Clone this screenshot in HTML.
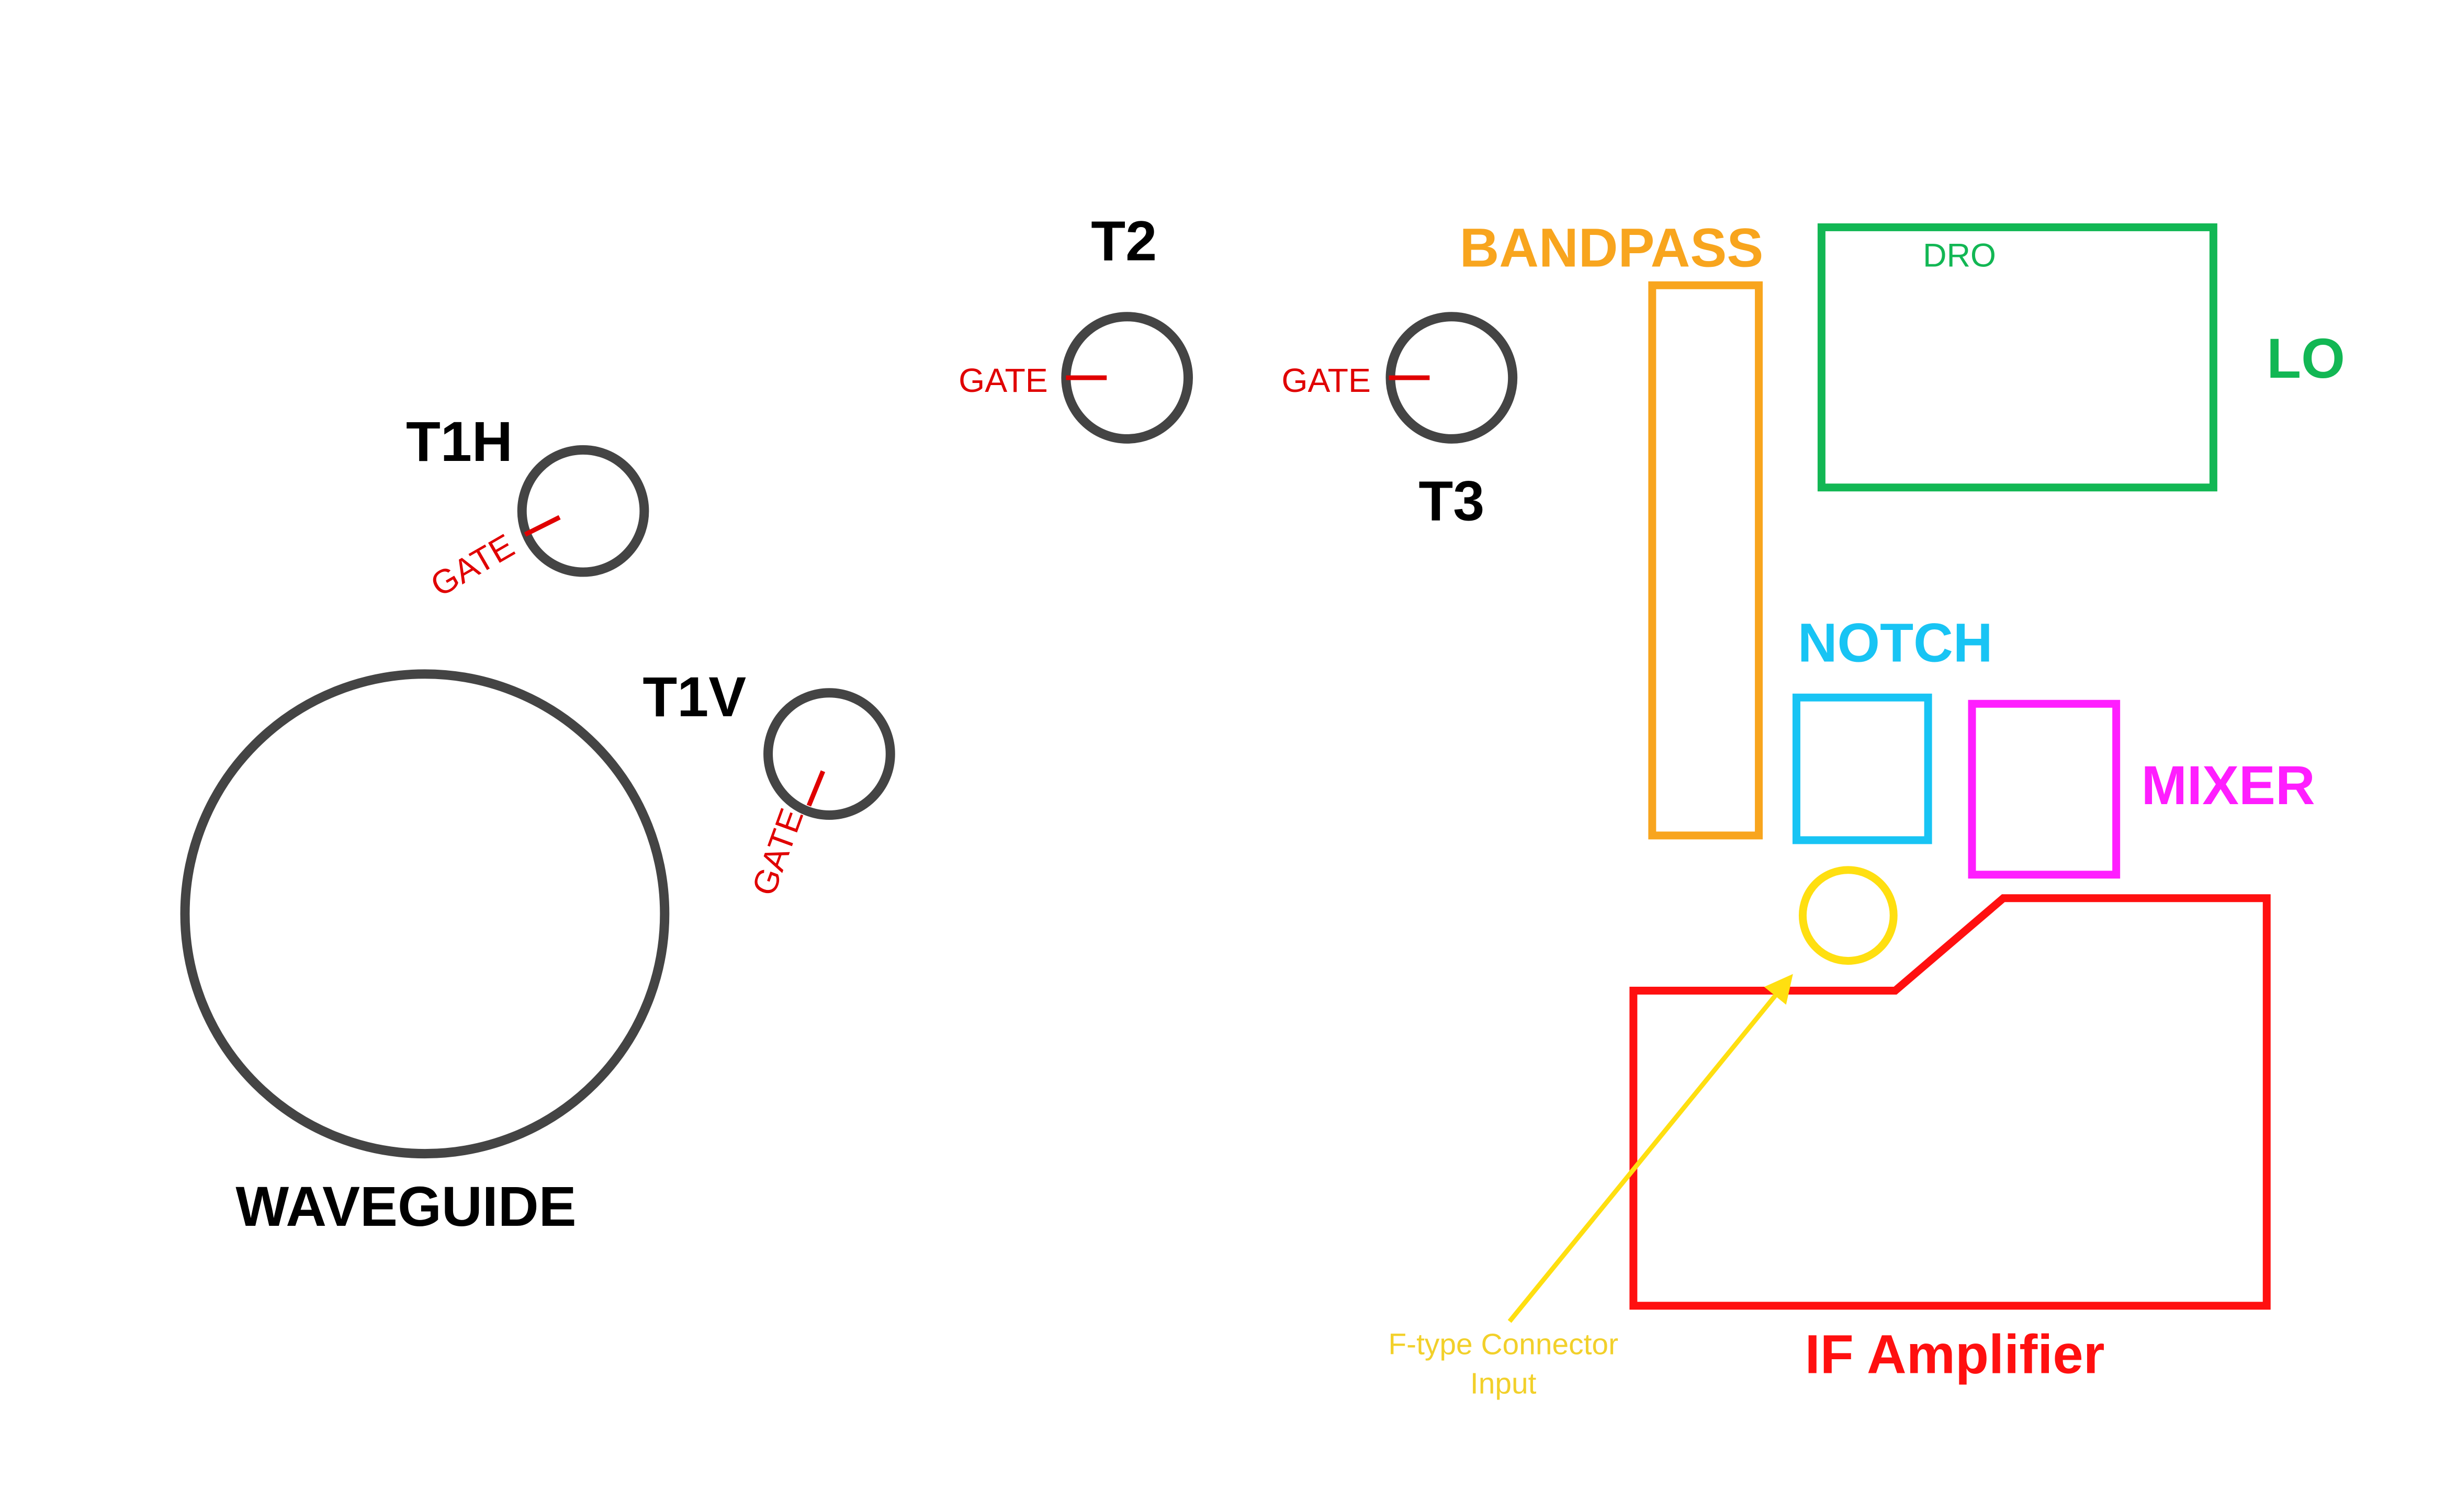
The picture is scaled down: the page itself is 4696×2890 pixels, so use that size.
<!DOCTYPE html>
<html><head><meta charset="utf-8"><style>
html,body{margin:0;padding:0;background:#fff;}
svg{display:block;}
text{font-family:"Liberation Sans",sans-serif;}
</style></head><body>
<svg width="4696" height="2890" viewBox="0 0 1567.4 964.6" preserveAspectRatio="none" xmlns="http://www.w3.org/2000/svg">
<defs><marker id="ah" markerWidth="6" markerHeight="6" refX="4" refY="3" orient="auto" markerUnits="strokeWidth"><path d="M0,0 L6,3 L0,6 z" fill="#FFDF10"/></marker></defs>
<g fill="none" stroke="#444" stroke-width="6">
<circle cx="271" cy="583" r="153"/>
<circle cx="372" cy="326" r="39"/>
<circle cx="529" cy="481" r="39"/>
<circle cx="719" cy="241" r="39"/>
<circle cx="926" cy="241" r="39"/>
</g>
<g stroke="#E00000" stroke-width="3">
<line x1="335" y1="341" x2="357" y2="330"/>
<line x1="516" y1="514" x2="525" y2="492"/>
<line x1="680" y1="241" x2="706" y2="241"/>
<line x1="886" y1="241" x2="912" y2="241"/>
</g>
<g fill="#E00000" font-size="21.5">
<text transform="translate(305,367) rotate(-30)" text-anchor="middle">GATE</text>
<text transform="translate(503,546) rotate(-70)" text-anchor="middle">GATE</text>
<text x="640" y="250" text-anchor="middle">GATE</text>
<text x="846" y="250" text-anchor="middle">GATE</text>
</g>
<g fill="#000" font-size="36" font-weight="bold" text-anchor="middle">
<text x="259" y="782">WAVEGUIDE</text>
<text x="293" y="294">T1H</text>
<text x="443" y="457">T1V</text>
<text x="717" y="166">T2</text>
<text x="926" y="332">T3</text>
</g>
<rect x="1054" y="182" width="68" height="351" fill="none" stroke="#F8A51E" stroke-width="5"/>
<text x="1028" y="170" text-anchor="middle" font-size="35" font-weight="bold" fill="#F8A51E">BANDPASS</text>
<rect x="1162" y="145" width="250" height="166" fill="none" stroke="#12B754" stroke-width="5"/>
<text x="1250" y="170" text-anchor="middle" font-size="21" fill="#12B754">DRO</text>
<text x="1446" y="241" font-size="36" font-weight="bold" fill="#12B754">LO</text>
<rect x="1146" y="445" width="84" height="91" fill="none" stroke="#18C4F4" stroke-width="5"/>
<text x="1209" y="422" text-anchor="middle" font-size="35" font-weight="bold" fill="#18C4F4">NOTCH</text>
<rect x="1258" y="449" width="92" height="109" fill="none" stroke="#FF1EFF" stroke-width="5"/>
<text x="1366" y="513" font-size="35" font-weight="bold" fill="#FF1EFF">MIXER</text>
<circle cx="1179" cy="584" r="29" fill="none" stroke="#FFDF10" stroke-width="5"/>
<polygon points="1042,632 1209,632 1278,573 1446,573 1446,833 1042,833" fill="none" stroke="#FF1010" stroke-width="5"/>
<text x="1247" y="876" text-anchor="middle" font-size="35" font-weight="bold" fill="#FF1010">IF Amplifier</text>
<line x1="963" y1="843" x2="1140" y2="626" stroke="#FFDF10" stroke-width="3" marker-end="url(#ah)"/>
<g fill="#F2D02A" font-size="19" text-anchor="middle">
<text x="959" y="864">F-type Connector</text>
<text x="959" y="889">Input</text>
</g>
</svg>
</body></html>
